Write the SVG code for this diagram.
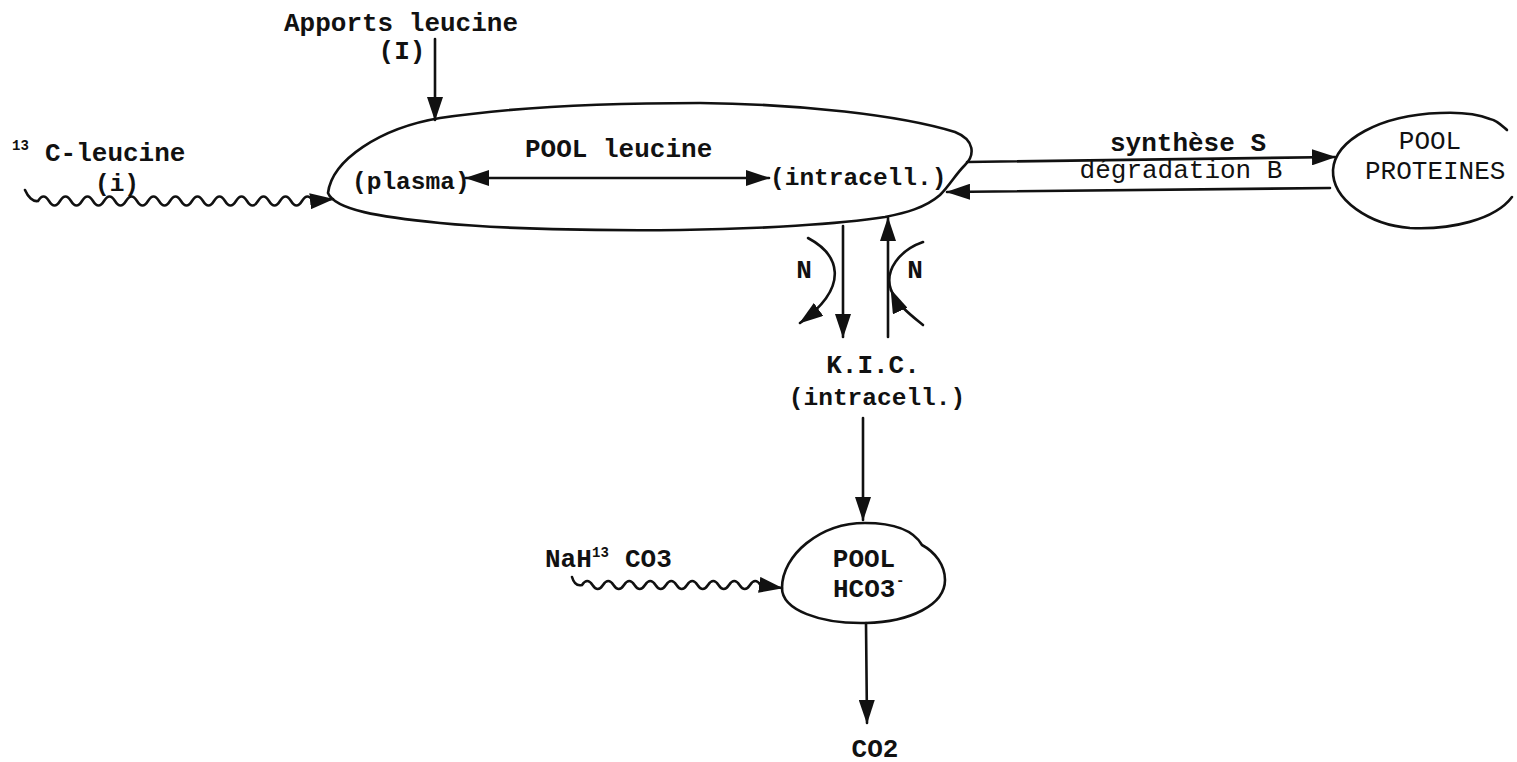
<svg xmlns="http://www.w3.org/2000/svg" width="1517" height="762" viewBox="0 0 1517 762">
<style>
text{font-family:"Liberation Mono","DejaVu Sans Mono",monospace;font-size:26px;font-weight:bold;fill:#111}
.m{text-anchor:middle}
.n{font-weight:normal}
.s{font-size:24.5px}
.sup{font-size:14px}
.shape{fill:none;stroke:#111;stroke-width:2.6;stroke-linejoin:round;stroke-linecap:round}
.c{fill:none;stroke:#111;stroke-width:2.6;stroke-linecap:round}
</style>
<defs>
<marker id="ah" viewBox="0 0 24 16" refX="23" refY="8" markerWidth="24" markerHeight="16" markerUnits="userSpaceOnUse" orient="auto-start-reverse">
<path d="M0,0 L24,8 L0,16 Z" fill="#111"/>
</marker>
</defs>
<rect width="1517" height="762" fill="#fff"/>

<g id="apports">
<text class="m" x="401" y="31">Apports leucine</text>
<text class="m" x="402" y="59">(I)</text>
</g>

<g id="c13-leucine">
<text><tspan class="sup" x="12" y="150">13</tspan><tspan x="45" y="161">C-leucine</tspan></text>
<text class="m s" x="117" y="191">(i)</text>
</g>

<g id="pool-leucine">
<path class="shape" d="M328,193 C332,160 380,128 440,118 C520,106 620,103 700,103 C800,104 900,115 955,132 C975,140 975,155 965,165 C955,175 950,185 940,195 C925,208 905,213 885,217 C840,224 760,229 680,230 C600,231 500,229 440,223 C380,217 335,210 328,193 Z"/>
<text x="525" y="157">POOL leucine</text>
<text class="s" x="352" y="189">(plasma)</text>
<text class="s" x="770" y="185">(intracell.)</text>
</g>

<g id="pool-proteines">
<path class="shape" d="M1507,130 C1500,124 1496,120 1490,119 C1475,113 1460,112 1440,113 C1380,115 1335,140 1333,170 C1332,200 1370,225 1410,228 C1450,230 1495,220 1512,197"/>
<text class="m n" x="1430" y="149">POOL</text>
<text class="n" x="1365" y="179">PROTEINES</text>
</g>

<g id="kic">
<text class="m" x="873" y="373">K.I.C.</text>
<text class="m s" x="877" y="405">(intracell.)</text>
</g>

<g id="pool-hco3">
<path class="shape" d="M782,588 C782,555 820,523 865,523 C898,523 915,533 922,545 C935,552 945,565 945,580 C945,605 910,622 866,623 C820,624 782,610 782,588 Z"/>
<text class="m" x="864" y="567">POOL</text>
<text x="833" y="597">HCO3</text>
<text class="sup" x="896" y="585">-</text>
</g>

<g id="nah13co3">
<text><tspan x="545" y="567">NaH</tspan><tspan class="sup" x="592" y="557">13</tspan><tspan x="625" y="567">CO3</tspan></text>
</g>

<g id="co2">
<text class="m" x="875" y="757">CO2</text>
</g>

<g id="connectors">
<path class="c" d="M435,39 L435,120" marker-end="url(#ah)"/>
<path class="c" d="M25,190 C28,197 33,202 38,201 q5.5,-9 11,0 t11,0 t11,0 t11,0 t11,0 t11,0 t11,0 t11,0 t11,0 t11,0 t11,0 t11,0 t11,0 t11,0 t11,0 t11,0 t11,0 t11,0 t11,0 t11,0 t11,0 t11,0 t11,0 t11,0 t11,0 L333,199" marker-end="url(#ah)"/>
<path class="c" d="M466,178 L769,178" marker-start="url(#ah)" marker-end="url(#ah)"/>
<path class="c" d="M967,162 L1335,157" marker-end="url(#ah)"/>
<path class="c" d="M1330,188 L947,192" marker-end="url(#ah)"/>
<path class="c" d="M843,226 L843,337" marker-end="url(#ah)"/>
<path class="c" d="M888,337 L888,218" marker-end="url(#ah)"/>
<path class="c" d="M808,238 C838,254 852,285 800,323" marker-end="url(#ah)"/>
<path class="c" d="M923,325 C912,316 898,306 891,290" marker-end="url(#ah)"/>
<path class="c" d="M891,290 C884,270 900,250 923,242"/>
<path class="c" d="M863,418 L863,520" marker-end="url(#ah)"/>
<path class="c" d="M572,577 C574,584 578,586 582,585 q5.25,-8 10.5,0 t10.5,0 t10.5,0 t10.5,0 t10.5,0 t10.5,0 t10.5,0 t10.5,0 t10.5,0 t10.5,0 t10.5,0 t10.5,0 t10.5,0 t10.5,0 t10.5,0 t10.5,0 t10.5,0 L782,588" marker-end="url(#ah)"/>
<path class="c" d="M866,623 L867,723" marker-end="url(#ah)"/>
<text class="m" x="1188" y="151">synthèse S</text>
<text class="m n" x="1181" y="178">dégradation B</text>
<text class="m" x="804" y="278">N</text>
<text class="m" x="915" y="278">N</text>
</g>
</svg>
